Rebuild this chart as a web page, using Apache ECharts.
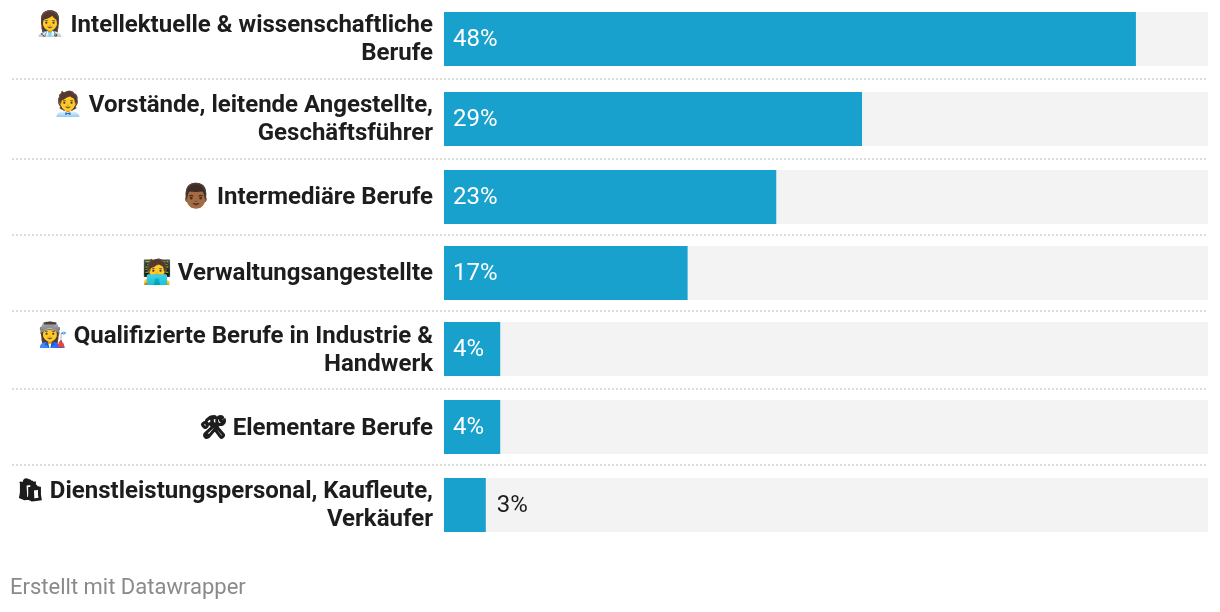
<!DOCTYPE html>
<html><head><meta charset="utf-8">
<style>html,body{margin:0;padding:0;background:#fff}#c{width:1220px;height:612px}</style>
<script src="https://cdn.jsdelivr.net/npm/echarts@6/dist/echarts.min.js"></script>
</head><body><div id="c"></div>
<script>
const categories = [
  "👩‍⚕️ Intellektuelle & wissenschaftliche\nBerufe",
  "🧑‍💼 Vorstände, leitende Angestellte,\nGeschäftsführer",
  "👨🏾 Intermediäre Berufe",
  "🧑‍💻 Verwaltungsangestellte",
  "👩‍🏭 Qualifizierte Berufe in Industrie &\nHandwerk",
  "🛠 Elementare Berufe",
  "🛍 Dienstleistungspersonal, Kaufleute,\nVerkäufer"
];
const values = [48, 29, 23.05, 16.9, 3.9, 3.9, 2.9];
const valueLabels = ["48%", "29%", "23%", "17%", "4%", "4%", "3%"];
const axisMax = 53;
const footer = "Erstellt mit Datawrapper";
const solidIcons = ["🛠", "🛍"];

const rowTops = [12, 92, 170, 246, 322, 400, 478];
const labelPadTop = [2, 2, 2, 2, 4, 4, 2];
const separators = [79, 159, 235, 311, 389, 465];
const font = 'Roboto, sans-serif';
const ink = '#1d1d1d';

const grids = [], xAxes = [], yAxes = [], series = [];
categories.forEach((c, i) => {
  grids.push({left: 444, width: 764, top: rowTops[i], height: 54});
  xAxes.push({type: 'value', gridIndex: i, min: 0, max: axisMax, show: false});
  const labelStyle = {fontFamily: font, fontSize: 24, fontWeight: 700, color: ink, lineHeight: 28};
  const icon = solidIcons.find(s => c.startsWith(s));
  yAxes.push({
    type: 'category', gridIndex: i, data: [c],
    axisLine: {show: false}, axisTick: {show: false},
    axisLabel: Object.assign({}, labelStyle, {
      margin: 11, align: 'right', padding: [labelPadTop[i], 0, 0, 0],
      formatter: v => icon
        ? '{icon|' + icon + '}' + v.slice(icon.length).split('\n').map(t => '{txt|' + t + '}').join('\n')
        : v,
      rich: {
        txt: labelStyle,
        icon: Object.assign({}, labelStyle, {fontSize: 21, textBorderColor: ink, textBorderWidth: 1.4})
      }
    })
  });
  const outside = values[i] < 3;
  series.push({
    type: 'bar', xAxisIndex: i, yAxisIndex: i, silent: true, animation: false,
    barWidth: 54,
    data: [values[i]],
    itemStyle: {color: '#18a1cd'},
    showBackground: true, backgroundStyle: {color: '#f3f3f3'},
    label: {show: true, position: outside ? 'right' : 'insideLeft', distance: outside ? 11 : 9,
      offset: [0, 1],
      formatter: () => valueLabels[i],
      fontFamily: font, fontSize: 24, fontWeight: 400,
      color: outside ? ink : '#ffffff'}
  });
});

const chart = echarts.init(document.getElementById('c'), null, {renderer: 'canvas'});
chart.setOption({
  animation: false,
  backgroundColor: '#fff',
  title: {text: footer, left: 5, top: 572,
    textStyle: {fontFamily: font, fontSize: 22, fontWeight: 400, color: '#8a8a8a'}},
  grid: grids, xAxis: xAxes, yAxis: yAxes, series,
  graphic: separators.map(y => ({
    type: 'line', silent: true,
    shape: {x1: 12, y1: y, x2: 1208, y2: y},
    style: {stroke: '#dcdcdc', lineWidth: 2, lineDash: [2, 2]}
  }))
});
</script></body></html>
